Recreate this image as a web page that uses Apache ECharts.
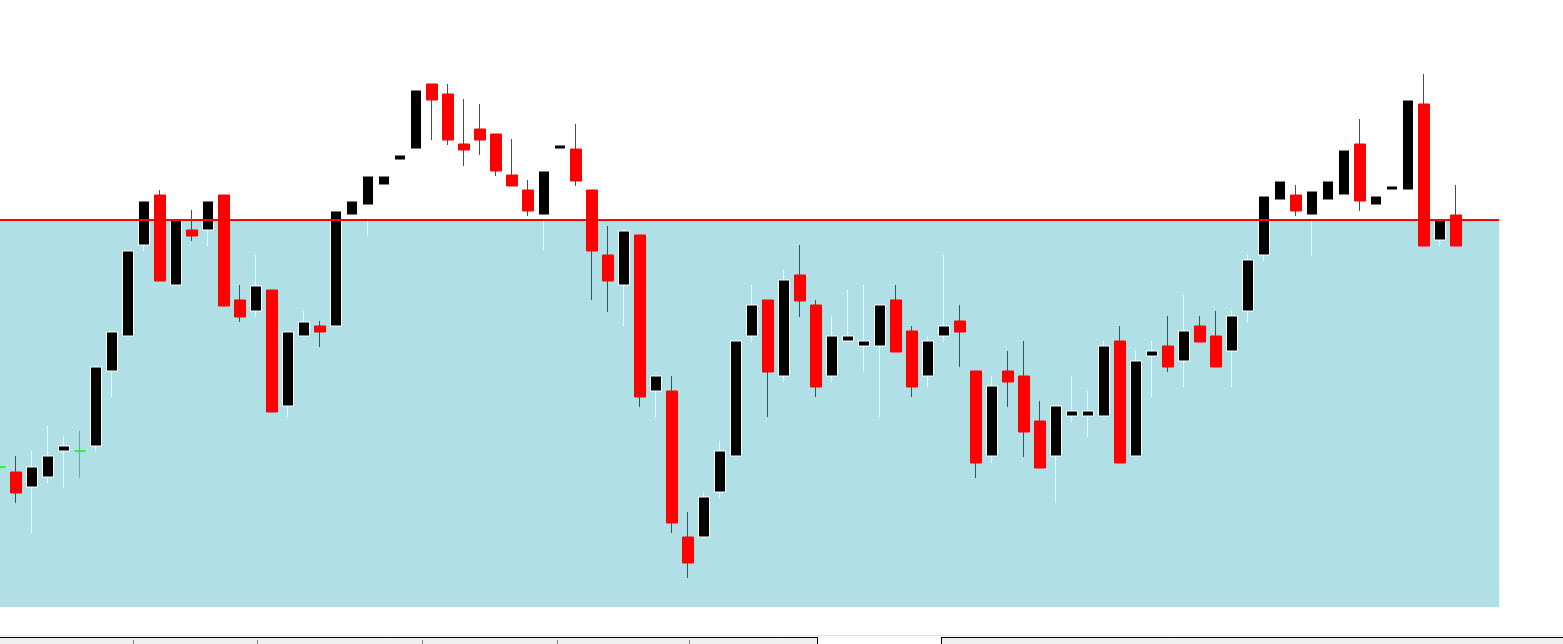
<!DOCTYPE html>
<html><head><meta charset="utf-8">
<script src="https://cdn.jsdelivr.net/npm/echarts@6/dist/echarts.min.js"></script>
<style>html,body{margin:0;padding:0;background:#fff;overflow:hidden}#c{width:1563px;height:644px}</style>
</head><body><div id="c"></div>
<script>
// Price values (chart points), bar -1 (partially visible) .. bar 90
const openV = [
  140,135,120,130,156,156,161,236,271,362,
  412,322,377,377,412,307,296,317,201,271,
  281,281,392,402,422,447,458,523,513,463,
  478,473,432,417,392,458,458,417,352,322,
  372,216,216,70,70,115,151,271,307,231,
  332,302,231,266,261,261,307,276,231,271,
  286,236,151,236,231,186,151,191,191,191,
  266,151,251,261,246,281,271,256,296,352,
  407,412,392,407,412,463,402,417,417,503,
  367,392
];
const closeV = [
  140,114,140,151,161,156,240,275,356,406,
  326,387,371,406,301,290,321,195,275,285,
  275,396,406,431,431,452,517,507,467,457,
  467,436,421,396,436,462,426,356,326,376,
  210,231,84,44,110,156,266,302,235,327,
  306,220,271,271,266,302,255,220,266,281,
  275,144,221,225,175,139,201,196,196,261,
  144,246,256,240,276,265,240,291,347,411,
  426,396,416,426,457,406,411,421,507,361,
  387,361
];
const lowV = [
  132,104,74,124,119,129,155,210,271,356,
  326,322,366,361,301,285,290,195,190,271,
  260,281,392,371,420,445,455,467,462,441,
  452,431,421,391,357,455,421,307,295,281,
  200,190,74,29,70,109,151,265,190,225,
  290,210,225,266,235,190,255,210,220,265,
  240,129,144,200,150,139,104,185,170,191,
  144,151,210,235,220,265,240,220,285,346,
  405,391,351,405,410,396,400,415,415,361,
  361,361
];
const highV = [
  147,151,156,181,171,176,240,275,356,406,
  417,387,397,406,412,322,352,317,275,296,
  286,396,406,431,433,455,520,523,523,508,
  503,473,468,427,436,465,483,417,381,376,
  372,231,231,95,115,166,266,322,307,337,
  362,307,291,317,322,302,322,281,271,352,
  302,236,231,256,266,206,201,231,216,266,
  281,256,266,291,312,291,296,296,352,411,
  428,422,416,428,459,488,413,423,509,533,
  387,422
];
const levelValue = 387;      // red horizontal level
const totalSlots = 95;       // category slots on the axis
const categories = Array.from({length: totalSlots}, (_, i) => String(i));

const candleData = openV.map((o, i) => [o, closeV[i], lowV[i], highV[i]]);

const chart = echarts.init(document.getElementById('c'), null, {renderer: 'canvas'});
chart.setOption({
  animation: false,
  backgroundColor: '#ffffff',
  grid: {left: 0, top: 40, width: 16 * (totalSlots - 1), bottom: 37, containLabel: false},
  xAxis: {
    type: 'category', data: categories, boundaryGap: false,
    show: false
  },
  yAxis: {
    type: 'value', min: 0, max: 567, show: false, splitLine: {show: false}
  },
  graphic: [
    {type: 'line', shape: {x1: 0, y1: 635.5, x2: 1563, y2: 635.5}, style: {stroke: '#e3e3e3', lineWidth: 1}, silent: true},
    {type: 'rect', shape: {x: 0, y: 638, width: 818, height: 6}, style: {fill: '#f0f0f0'}, silent: true},
    {type: 'rect', shape: {x: 941, y: 638, width: 622, height: 6}, style: {fill: '#f0f0f0'}, silent: true},
    {type: 'line', shape: {x1: 0, y1: 637.5, x2: 818, y2: 637.5}, style: {stroke: '#000', lineWidth: 1}, silent: true},
    {type: 'line', shape: {x1: 941, y1: 637.5, x2: 1563, y2: 637.5}, style: {stroke: '#000', lineWidth: 1}, silent: true},
    {type: 'line', shape: {x1: 817.5, y1: 637, x2: 817.5, y2: 644}, style: {stroke: '#000', lineWidth: 1}, silent: true},
    {type: 'line', shape: {x1: 941.5, y1: 637, x2: 941.5, y2: 644}, style: {stroke: '#000', lineWidth: 1}, silent: true},
    {type: 'line', shape: {x1: 133.5, y1: 640, x2: 133.5, y2: 644}, style: {stroke: '#808080', lineWidth: 1}, silent: true},
    {type: 'line', shape: {x1: 257.5, y1: 640, x2: 257.5, y2: 644}, style: {stroke: '#808080', lineWidth: 1}, silent: true},
    {type: 'line', shape: {x1: 422.5, y1: 640, x2: 422.5, y2: 644}, style: {stroke: '#808080', lineWidth: 1}, silent: true},
    {type: 'line', shape: {x1: 557.5, y1: 640, x2: 557.5, y2: 644}, style: {stroke: '#808080', lineWidth: 1}, silent: true},
    {type: 'line', shape: {x1: 689.5, y1: 640, x2: 689.5, y2: 644}, style: {stroke: '#808080', lineWidth: 1}, silent: true}
  ],
  series: [{
    type: 'candlestick',
    data: candleData,
    barWidth: 11,
    itemStyle: {
      color: '#000000',
      color0: '#ff0000',
      borderColor: '#ffffff',
      borderColor0: '#ff0000',
      borderColorDoji: '#00ff00',
      borderWidth: 1
    },
    markArea: {
      silent: true,
      itemStyle: {color: '#b0e0e6', opacity: 1},
      data: [[{x: 0, yAxis: levelValue}, {x: 1499, yAxis: 0}]]
    },
    markLine: {
      silent: true,
      symbol: 'none',
      label: {show: false},
      lineStyle: {color: '#ff0000', width: 2, type: 'solid'},
      data: [[{x: 0, yAxis: levelValue}, {x: 1499, yAxis: levelValue}]]
    }
  }]
});
</script>
</body></html>
